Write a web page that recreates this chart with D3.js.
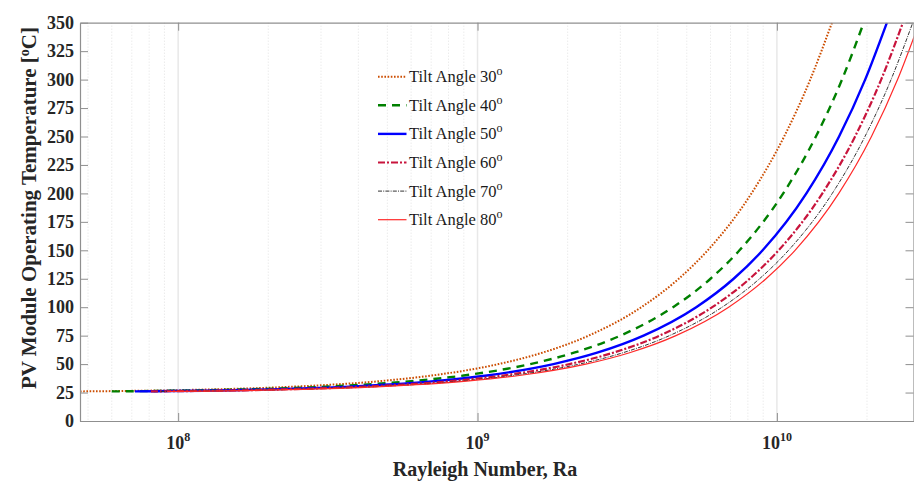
<!DOCTYPE html>
<html>
<head>
<meta charset="utf-8">
<script src="https://cdn.jsdelivr.net/npm/d3@7"></script>
<style>
  html, body { margin: 0; padding: 0; background: #fff; }
  svg { display: block; }
  text { font-family: "Liberation Serif", "Times New Roman", serif; }
</style>
</head>
<body>
<svg id="chart" width="914" height="483"></svg>
<script>
// Module temperature (°C) sampled along every curve
const temperature = [26, 27.5, 30, 35, 40, 50, 60, 75, 100, 125, 150, 200, 250, 300, 350];

// Rayleigh number reached at each temperature, one array per tilt angle
const ra30 = [4.70e7, 1.175e8, 2.35e8, 4.70e8, 7.05e8, 1.175e9, 1.645e9, 2.35e9, 3.525e9, 4.70e9, 5.875e9, 8.225e9, 1.0575e10, 1.2925e10, 1.5275e10];
const ra40 = [6.0e7, 1.5e8, 3.0e8, 6.0e8, 9.0e8, 1.5e9, 2.1e9, 3.0e9, 4.5e9, 6.0e9, 7.5e9, 1.05e10, 1.35e10, 1.65e10, 1.95e10];
const ra50 = [7.17e7, 1.79e8, 3.585e8, 7.17e8, 1.0755e9, 1.7925e9, 2.51e9, 3.585e9, 5.3775e9, 7.17e9, 8.9625e9, 1.2548e10, 1.6133e10, 1.9718e10, 2.3303e10];
const ra60 = [8.11e7, 2.03e8, 4.055e8, 8.11e8, 1.2165e9, 2.0275e9, 2.8385e9, 4.055e9, 6.0825e9, 8.11e9, 1.01375e10, 1.41925e10, 1.82475e10, 2.23025e10, 2.63575e10];
const ra70 = [8.75e7, 2.1875e8, 4.375e8, 8.75e8, 1.3125e9, 2.1875e9, 3.0625e9, 4.375e9, 6.5625e9, 8.75e9, 1.09375e10, 1.53125e10, 1.96875e10, 2.40625e10, 2.84375e10];
const ra80 = [9.2e7, 2.3e8, 4.6e8, 9.2e8, 1.38e9, 2.3e9, 3.22e9, 4.6e9, 6.9e9, 9.2e9, 1.15e10, 1.61e10, 2.07e10, 2.53e10, 2.99e10];

const tiltAngles = [30, 40, 50, 60, 70, 80];
const yTickValues = [0, 25, 50, 75, 100, 125, 150, 175, 200, 225, 250, 275, 300, 325, 350];
const xTickExponents = [8, 9, 10];

const raSeries = [ra30, ra40, ra50, ra60, ra70, ra80];

// line styling for each tilt angle
const styles = [
  { color: "#cc4d00", width: 2.0, dash: "1.6,1.6" },
  { color: "#008000", width: 2.4, dash: "8,6" },
  { color: "#0000ff", width: 2.4, dash: null },
  { color: "#c8143c", width: 2.2, dash: "7,2,2,2" },
  { color: "#333333", width: 1.0, dash: "4,1.2,1,1.2" },
  { color: "#ff2a2a", width: 1.2, dash: null }
];

const svg = d3.select("#chart");
const plotLeft = 80, plotRight = 913.5, plotTop = 22.7, plotBottom = 421;

const x = d3.scaleLog().domain([4.7e7, 2.86e10]).range([plotLeft, plotRight]);
const y = d3.scaleLinear().domain([0, 350]).range([plotBottom, plotTop]);

svg.append("defs").append("clipPath").attr("id", "plotClip")
  .append("rect").attr("x", plotLeft).attr("y", plotTop)
  .attr("width", plotRight - plotLeft).attr("height", plotBottom - plotTop);

// vertical grid: dotted at minor decades, solid at powers of ten
const [d0, d1] = x.domain();
const minorVals = [];
for (let e = 7; e <= 10; e++) {
  for (let m = 2; m <= 9; m++) {
    const v = m * Math.pow(10, e);
    if (v > d0 && v < d1) minorVals.push(v);
  }
}
const grid = svg.append("g");
grid.selectAll("line.minor").data(minorVals).join("line")
  .attr("class", "minor")
  .attr("x1", d => x(d)).attr("x2", d => x(d))
  .attr("y1", plotTop).attr("y2", plotBottom)
  .attr("stroke", "#dcdcdc").attr("stroke-width", 0.8)
  .attr("stroke-dasharray", "1,2");
grid.selectAll("line.major").data(xTickExponents.map(e => Math.pow(10, e))).join("line")
  .attr("class", "major")
  .attr("x1", d => x(d)).attr("x2", d => x(d))
  .attr("y1", plotTop).attr("y2", plotBottom)
  .attr("stroke", "#e8e8e8").attr("stroke-width", 1.5);

// curves
const line = d3.line()
  .x(d => x(d[0]))
  .y(d => y(d[1]))
  .curve(d3.curveMonotoneX);

const curves = svg.append("g").attr("clip-path", "url(#plotClip)");
raSeries.forEach((ra, i) => {
  const pts = ra.map((r, k) => [r, temperature[k]]);
  curves.append("path")
    .datum(pts)
    .attr("d", line)
    .attr("fill", "none")
    .attr("stroke", styles[i].color)
    .attr("stroke-width", styles[i].width)
    .attr("stroke-dasharray", styles[i].dash);
});

// axes with inward ticks on all four sides
const axisColor = "#8f8f8f";
const labelColor = "#262626";

const yAxisL = svg.append("g").attr("transform", `translate(${plotLeft},0)`)
  .call(d3.axisLeft(y).tickValues(yTickValues).tickSize(-8).tickPadding(6).tickSizeOuter(0));
const yAxisR = svg.append("g").attr("transform", `translate(${plotRight},0)`)
  .call(d3.axisRight(y).tickValues(yTickValues).tickSize(-8).tickFormat("").tickSizeOuter(0));
const xAxisB = svg.append("g").attr("transform", `translate(0,${plotBottom})`)
  .call(d3.axisBottom(x).tickValues(xTickExponents.map(e => Math.pow(10, e))).tickSize(-8).tickFormat("").tickSizeOuter(0));
const xAxisT = svg.append("g").attr("transform", `translate(0,${plotTop})`)
  .call(d3.axisTop(x).tickValues(xTickExponents.map(e => Math.pow(10, e))).tickSize(-8).tickFormat("").tickSizeOuter(0));

[yAxisL, yAxisR, xAxisB, xAxisT].forEach(g => {
  g.select(".domain").attr("stroke", axisColor).attr("stroke-width", 1.2);
  g.selectAll(".tick line").attr("stroke", axisColor).attr("stroke-width", 1);
});
yAxisL.selectAll(".tick text")
  .attr("font-family", "Liberation Serif, serif")
  .attr("font-size", 18).attr("font-weight", "bold")
  .attr("fill", labelColor);

// power-of-ten labels on the x axis
const xLabels = svg.append("g");
xTickExponents.forEach(e => {
  const t = xLabels.append("text")
    .attr("x", x(Math.pow(10, e)))
    .attr("y", 449)
    .attr("text-anchor", "middle")
    .attr("font-size", 18).attr("font-weight", "bold")
    .attr("fill", labelColor);
  t.append("tspan").text("10");
  t.append("tspan").attr("dy", -8).attr("font-size", 12).text(e);
});

// axis titles
svg.append("text")
  .attr("x", 485).attr("y", 476)
  .attr("text-anchor", "middle")
  .attr("font-size", 20).attr("font-weight", "bold").attr("fill", labelColor)
  .text("Rayleigh Number, Ra");

const yTitle = svg.append("text")
  .attr("transform", "translate(36,208) rotate(-90)")
  .attr("text-anchor", "middle")
  .attr("font-size", 21).attr("font-weight", "bold").attr("fill", labelColor);
yTitle.append("tspan").text("PV Module Operating Temperature [");
yTitle.append("tspan").attr("dy", -7).attr("font-size", 14).text("o");
yTitle.append("tspan").attr("dy", 7).text("C]");

// legend (no frame)
const legend = svg.append("g");
tiltAngles.forEach((a, i) => {
  const ly = 76.7 + i * 28.6;
  legend.append("line")
    .attr("x1", 378).attr("x2", 406.5)
    .attr("y1", ly).attr("y2", ly)
    .attr("stroke", styles[i].color)
    .attr("stroke-width", styles[i].width)
    .attr("stroke-dasharray", styles[i].dash);
  const t = legend.append("text")
    .attr("x", 409).attr("y", ly + 5.5)
    .attr("font-size", 16.5).attr("fill", "#1a1a1a");
  t.append("tspan").text(`Tilt Angle ${a}`);
  t.append("tspan").attr("dy", -7).attr("font-size", 12).text("o");
});
</script>
</body>
</html>
